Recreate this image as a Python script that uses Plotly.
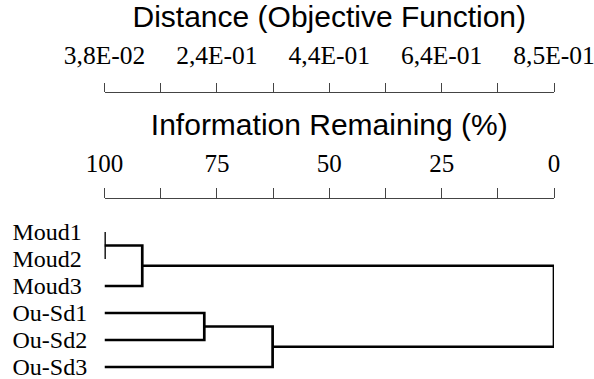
import plotly.graph_objects as go

# ---- data ----
leaves = ["Moud1", "Moud2", "Moud3", "Ou-Sd1", "Ou-Sd2", "Ou-Sd3"]
# merges: (child_a, child_b, information remaining % at merge)
merge_a = ["Moud1", "c0", "Ou-Sd1", "c2", "c1"]
merge_b = ["Moud2", "Moud3", "Ou-Sd2", "Ou-Sd3", "c3"]
merge_info = [100.0, 91.6, 77.8, 62.6, 0.0]

info_ticks = [100, 75, 50, 25, 0]
info_labels = ["100", "75", "50", "25", "0"]
dist_ticks = [0.038, 0.241, 0.444, 0.647, 0.850]
dist_labels = ["3,8E-02", "2,4E-01", "4,4E-01", "6,4E-01", "8,5E-01"]

# ---- build dendrogram paths ----
pos = {name: (float(i), 100.0) for i, name in enumerate(leaves)}
xs, ys = [], []
for k, (a, b, h) in enumerate(zip(merge_a, merge_b, merge_info)):
    ya, ha = pos[a]
    yb, hb = pos[b]
    xs += [ha, h, h, hb, None]
    ys += [ya, ya, yb, yb, None]
    pos["c%d" % k] = ((ya + yb) / 2.0, h)

W, H = 594, 379
x0_px, x1_px = 104.5, 554.0
axis_col = "#444444"
serif = "Liberation Serif, Times New Roman, serif"
sans = "Liberation Sans, Arial, sans-serif"

fig = go.Figure()
fig.add_trace(go.Scatter(x=xs, y=ys, mode="lines",
                         line=dict(color="black", width=2.7),
                         hoverinfo="skip", showlegend=False))
# invisible trace so that the distance axis subplot exists
fig.add_trace(go.Scatter(x=[dist_ticks[0], dist_ticks[-1]], y=[0, 0],
                         xaxis="x2", yaxis="y", mode="markers",
                         marker=dict(opacity=0), hoverinfo="skip",
                         showlegend=False))

info_minor = [(a + b) / 2 for a, b in zip(info_ticks[:-1], info_ticks[1:])]
dist_minor = [(a + b) / 2 for a, b in zip(dist_ticks[:-1], dist_ticks[1:])]

tick_common = dict(ticks="outside", ticklen=9.5, tickwidth=1.3, tickcolor=axis_col,
                   showline=True, linecolor=axis_col, linewidth=1.3,
                   showgrid=False, zeroline=False, automargin=False,
                   ticklabeloverflow="allow")

fig.update_layout(
    width=W, height=H,
    margin=dict(l=0, r=0, t=0, b=0, autoexpand=False),
    paper_bgcolor="white", plot_bgcolor="white",
    showlegend=False,
    xaxis=dict(
        domain=[x0_px / W, x1_px / W],
        range=[100, 0],
        anchor="free", position=1 - 197.7 / H, side="top",
        tickmode="array", tickvals=info_ticks, ticktext=info_labels,
        tickfont=dict(family=serif, size=25, color="black"),
        ticklabelstandoff=6,
        minor=dict(tickvals=info_minor, ticks="outside", ticklen=9.5,
                   tickwidth=1.3, tickcolor=axis_col, showgrid=False),
        title=dict(text="Information Remaining (%)",
                   font=dict(family=sans, size=30, color="black"), standoff=4),
        **tick_common,
    ),
    xaxis2=dict(
        overlaying="x",
        range=[dist_ticks[0], dist_ticks[-1]],
        anchor="free", position=1 - 92.3 / H, side="top",
        tickmode="array", tickvals=dist_ticks, ticktext=dist_labels,
        tickfont=dict(family=serif, size=25.5, color="black"),
        ticklabelstandoff=8,
        minor=dict(tickvals=dist_minor, ticks="outside", ticklen=9.5,
                   tickwidth=1.3, tickcolor=axis_col, showgrid=False),
        title=dict(text="Distance (Objective Function)",
                   font=dict(family=sans, size=30, color="black"), standoff=8),
        **tick_common,
    ),
    yaxis=dict(
        domain=[1 - 375 / H, 1 - 220 / H],
        range=[(375 - 232) / 27.0, (220 - 232) / 27.0],
        anchor="free", position=11.5 / W, side="right",
        tickmode="array", tickvals=list(range(len(leaves))), ticktext=leaves,
        tickfont=dict(family=serif, size=24, color="black"),
        ticks="", showline=False, showgrid=False, zeroline=False,
        automargin=False, ticklabeloverflow="allow",
    ),
)

fig.write_html("out.html", config={"displayModeBar": False},
               post_script="document.body.style.margin='0px';")
